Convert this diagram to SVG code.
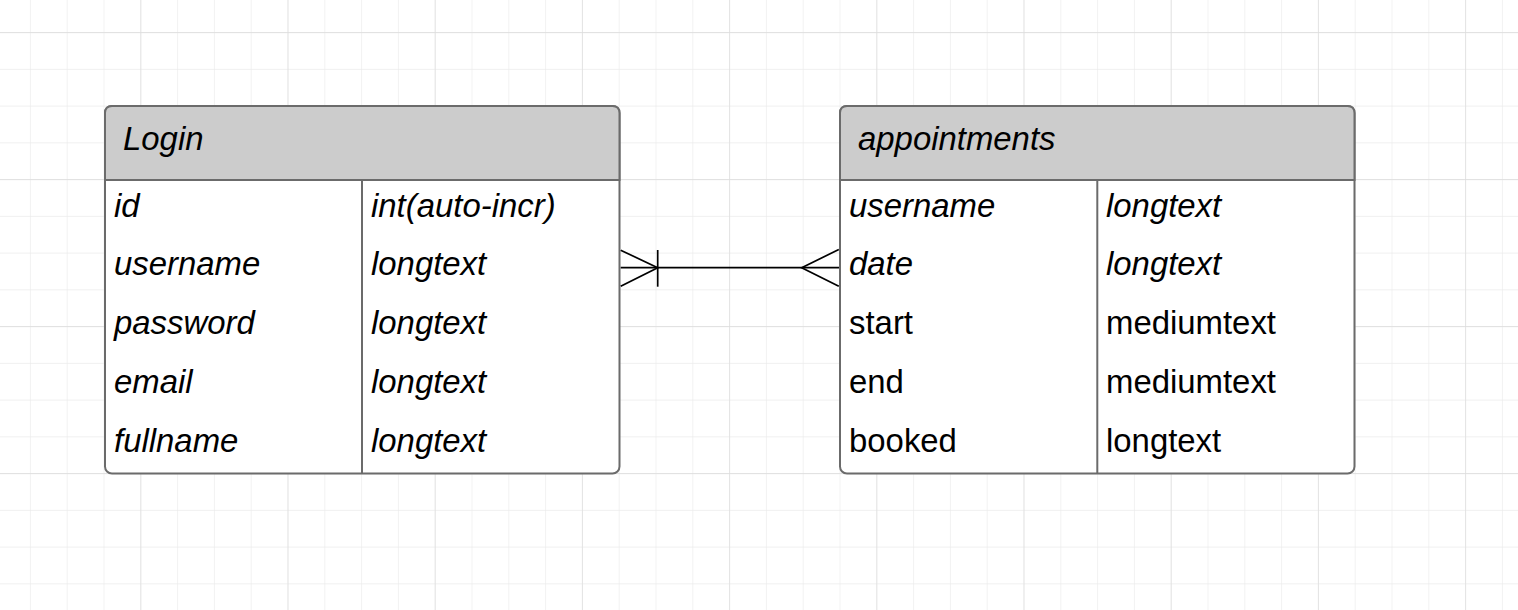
<svg xmlns="http://www.w3.org/2000/svg" width="1518" height="610" viewBox="0 0 1518 610">
  <defs>
    <pattern id="minor" x="-6.9" y="32.1" width="36.8" height="36.75" patternUnits="userSpaceOnUse">
      <path d="M0 0 V36.75 M0 0 H36.8" fill="none" stroke="#ebebeb" stroke-width="1.3"/>
    </pattern>
    <pattern id="major" x="-6.9" y="32.1" width="147.2" height="147" patternUnits="userSpaceOnUse">
      <path d="M0 0 V147 M0 0 H147.2" fill="none" stroke="#dcdcdc" stroke-width="1.3"/>
    </pattern>
  </defs>
  <style>
    .frame { fill: #ffffff; stroke: #6b6b6b; stroke-width: 2; }
    .head { fill: #cccccc; stroke: #6b6b6b; stroke-width: 2; }
    .div { stroke: #6b6b6b; stroke-width: 2; fill: none; }
    .t { font-family: "Liberation Sans", Arial, sans-serif; font-size: 32.9px; fill: #000000; }
    .i { font-style: italic; }
    .conn { fill: none; stroke: #000000; stroke-width: 1.7; }
  </style>
  <rect width="1518" height="610" fill="#ffffff"/>
  <rect width="1518" height="610" fill="url(#minor)"/>
  <rect width="1518" height="610" fill="url(#major)"/>

  <g id="login">
    <rect class="frame" x="105" y="106" width="514.5" height="367.5" rx="7"/>
    <path class="head" d="M105 180 V113 Q105 106 112 106 H612.5 Q619.5 106 619.5 113 V180 Z"/>
    <line class="div" x1="105" y1="180" x2="619.5" y2="180"/>
    <line class="div" x1="362" y1="180" x2="362" y2="473.5"/>
    <text class="t i" x="123" y="150">Login</text>
    <text class="t i" x="114" y="216.5">id</text>
    <text class="t i" x="371" y="216.5">int(auto-incr)</text>
    <text class="t i" x="114" y="275.3">username</text>
    <text class="t i" x="371" y="275.3">longtext</text>
    <text class="t i" x="114" y="334.1">password</text>
    <text class="t i" x="371" y="334.1">longtext</text>
    <text class="t i" x="114" y="392.9">email</text>
    <text class="t i" x="371" y="392.9">longtext</text>
    <text class="t i" x="114" y="451.7">fullname</text>
    <text class="t i" x="371" y="451.7">longtext</text>
  </g>

  <g id="appointments">
    <rect class="frame" x="840" y="106" width="514.5" height="367.5" rx="7"/>
    <path class="head" d="M840 180 V113 Q840 106 847 106 H1347.5 Q1354.5 106 1354.5 113 V180 Z"/>
    <line class="div" x1="840" y1="180" x2="1354.5" y2="180"/>
    <line class="div" x1="1097.3" y1="180" x2="1097.3" y2="473.5"/>
    <text class="t i" x="858" y="150">appointments</text>
    <text class="t i" x="849" y="216.5">username</text>
    <text class="t i" x="1106" y="216.5">longtext</text>
    <text class="t i" x="849" y="275.3">date</text>
    <text class="t i" x="1106" y="275.3">longtext</text>
    <text class="t" x="849" y="334.1">start</text>
    <text class="t" x="1106" y="334.1">mediumtext</text>
    <text class="t" x="849" y="392.9">end</text>
    <text class="t" x="1106" y="392.9">mediumtext</text>
    <text class="t" x="849" y="451.7">booked</text>
    <text class="t" x="1106" y="451.7">longtext</text>
  </g>

  <g id="connectors">
    <line class="conn" x1="620.7" y1="267.7" x2="839" y2="267.7"/>
    <path class="conn" d="M620.7 250.2 L657.7 267.7 L620.7 286.2"/>
    <line class="conn" x1="657.7" y1="250" x2="657.7" y2="286.7"/>
    <path class="conn" d="M838.8 249.5 L801.7 267.7 L838.8 286.2"/>
  </g>
</svg>
